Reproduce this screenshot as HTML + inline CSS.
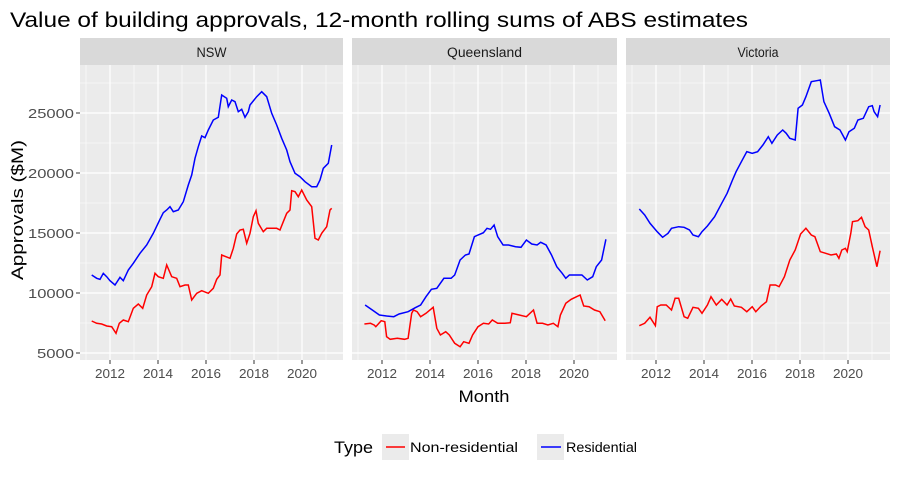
<!DOCTYPE html>
<html><head><meta charset="utf-8"><style>
body{margin:0;background:#fff;}
svg{display:block;font-family:"Liberation Sans",Arial,sans-serif;}
</style></head><body>
<svg id="s" width="899" height="479" viewBox="0 0 899 479" xmlns="http://www.w3.org/2000/svg">
<rect width="899" height="479" fill="#fff"/>
<text x="10" y="27" font-size="21" fill="#000" textLength="738" lengthAdjust="spacingAndGlyphs">Value of building approvals, 12-month rolling sums of ABS estimates</text>
<g id="panels"></g>
<text x="484" y="402" font-size="17" text-anchor="middle" textLength="51" lengthAdjust="spacingAndGlyphs">Month</text>
<text transform="translate(23,210) rotate(-90)" font-size="17" text-anchor="middle" textLength="140" lengthAdjust="spacingAndGlyphs">Approvals ($M)</text>
<text x="334" y="453" font-size="17" textLength="39" lengthAdjust="spacingAndGlyphs">Type</text>
<rect x="382" y="434" width="27" height="26" fill="#ebebeb"/>
<rect x="537" y="434" width="27" height="26" fill="#ebebeb"/>
<line x1="386" y1="447" x2="405" y2="447" stroke="#ff0000" stroke-width="1.5"/>
<text x="410" y="452" font-size="13.5" textLength="108" lengthAdjust="spacingAndGlyphs">Non-residential</text>
<line x1="541" y1="447" x2="561" y2="447" stroke="#0000ff" stroke-width="1.5"/>
<text x="566" y="452" font-size="13.5" textLength="71" lengthAdjust="spacingAndGlyphs">Residential</text>
<g fill="#4d4d4d" font-size="13" text-anchor="end">
<text x="74" y="118" textLength="46" lengthAdjust="spacingAndGlyphs">25000</text><text x="74" y="178" textLength="46" lengthAdjust="spacingAndGlyphs">20000</text><text x="74" y="238" textLength="46" lengthAdjust="spacingAndGlyphs">15000</text><text x="74" y="298" textLength="46" lengthAdjust="spacingAndGlyphs">10000</text><text x="74" y="358" textLength="37" lengthAdjust="spacingAndGlyphs">5000</text>
</g>
<g stroke="#333" stroke-width="1">
<line x1="76" x2="80" y1="113" y2="113"/><line x1="76" x2="80" y1="173" y2="173"/><line x1="76" x2="80" y1="233" y2="233"/><line x1="76" x2="80" y1="293" y2="293"/><line x1="76" x2="80" y1="353" y2="353"/>
</g>
<g id="lines" fill="none" stroke-width="1.5"></g>
</svg>
<script>
var P=[["NSW",80,343,0,30],["Queensland",352,617,272,75],["Victoria",626,890,546,41]];
var g=document.getElementById('panels'),h='';
P.forEach(function(p){
 var x0=p[1],x1=p[2],o=p[3];
 h+='<rect x="'+x0+'" y="38" width="'+(x1-x0)+'" height="27" fill="#d9d9d9"/>';
 h+='<text x="'+((x0+x1)/2)+'" y="57" font-size="13.5" fill="#1a1a1a" text-anchor="middle" textLength="'+p[4]+'" lengthAdjust="spacingAndGlyphs">'+p[0]+'</text>';
 h+='<rect x="'+x0+'" y="65" width="'+(x1-x0)+'" height="295" fill="#ebebeb"/>';
 for(var v=7500;v<=27500;v+=5000){var y=353-(v-5000)*0.012;h+='<line x1="'+x0+'" x2="'+x1+'" y1="'+y+'" y2="'+y+'" stroke="#fff" stroke-width="0.6"/>';}
 for(var yr=2011;yr<=2021;yr+=2){var x=110+o+(yr-2012)*24;h+='<line x1="'+x+'" x2="'+x+'" y1="65" y2="360" stroke="#fff" stroke-width="0.6"/>';}
 for(var v=5000;v<=25000;v+=5000){var y=353-(v-5000)*0.012;h+='<line x1="'+x0+'" x2="'+x1+'" y1="'+y+'" y2="'+y+'" stroke="#fff" stroke-width="1.2"/>';}
 for(var yr=2012;yr<=2020;yr+=2){var x=110+o+(yr-2012)*24;h+='<line x1="'+x+'" x2="'+x+'" y1="65" y2="360" stroke="#fff" stroke-width="1.2"/>';
  h+='<line x1="'+x+'" x2="'+x+'" y1="360" y2="364" stroke="#333"/>';
  h+='<text x="'+x+'" y="378" font-size="13" fill="#4d4d4d" text-anchor="middle" textLength="30" lengthAdjust="spacingAndGlyphs">'+yr+'</text>';}
});
g.innerHTML=h;
function pl(a,fx,col){var s='';for(var i=0;i<a.length;i+=2){s+=fx(a[i]).toFixed(1)+','+(30+a[i+1]/3).toFixed(1)+' ';}return '<polyline points="'+s+'" stroke="'+col+'"/>';}
var f1=function(x){return x/3;},f2=function(x){return 340+x/2.79;};
var nb=[275,735,290,745,300,748,310,730,320,740,330,752,345,765,360,742,370,752,385,720,400,700,420,670,440,645,460,610,480,568,490,548,500,540,510,530,520,545,535,540,550,515,565,465,575,435,585,385,595,350,605,318,615,323,625,300,640,270,655,262,665,195,680,205,685,230,695,210,705,215,715,245,725,238,735,262,745,245,750,225,770,200,785,185,800,200,815,250,830,285,845,325,860,360,870,395,885,430,900,440,915,455,935,470,950,470,960,450,970,415,985,400,995,345];
var nr=[275,873,290,880,305,882,320,888,335,890,348,910,358,880,370,870,385,875,400,835,415,822,428,835,440,795,455,770,465,730,475,740,490,745,500,705,515,740,530,745,540,770,555,765,565,765,575,810,590,790,605,782,625,790,640,775,650,748,660,735,665,675,690,685,700,655,710,612,720,600,730,598,740,640,750,610,760,560,768,542,775,580,790,605,800,595,830,595,840,600,850,575,860,550,870,540,875,482,885,485,895,500,905,480,920,510,935,530,945,625,955,630,965,610,980,590,990,540,995,535];
var qb=[70,825,90,840,110,855,130,858,150,860,165,852,190,845,210,833,225,825,240,800,255,778,270,775,290,745,310,745,320,735,335,690,350,675,360,672,375,620,385,615,400,608,410,595,420,598,430,585,440,620,455,645,470,645,490,650,505,652,520,630,535,642,550,645,560,637,575,645,590,675,605,710,620,730,630,745,640,735,660,735,675,735,690,750,705,740,715,710,730,690,742,628];
var qr=[68,882,85,880,95,885,100,890,115,872,125,875,130,920,140,928,160,925,180,928,190,925,200,850,205,840,215,845,225,860,240,850,260,832,270,895,280,915,295,905,305,915,320,940,335,950,345,935,360,940,370,915,385,890,400,880,415,882,425,870,440,880,460,880,475,878,480,850,500,855,520,860,540,840,550,880,565,880,580,885,595,880,608,890,615,855,630,820,645,808,660,800,670,795,680,828,695,830,710,840,725,845,740,872];
var vb=[835,537,850,555,865,580,885,605,900,622,915,610,925,595,945,590,960,592,975,600,985,615,1000,620,1010,605,1025,588,1045,560,1065,520,1080,490,1095,450,1105,425,1120,395,1135,365,1150,370,1165,365,1180,345,1195,320,1205,340,1220,315,1235,300,1245,310,1255,325,1270,330,1278,235,1290,225,1300,200,1315,155,1330,152,1340,150,1350,215,1365,250,1380,290,1395,300,1410,330,1420,305,1435,295,1445,270,1460,265,1475,230,1485,227,1490,245,1500,260,1507,225];
var vr=[835,887,850,880,865,862,880,887,885,830,895,825,910,825,925,840,935,805,945,805,960,860,970,865,985,832,1000,835,1010,850,1025,825,1035,800,1050,825,1065,808,1080,825,1090,807,1100,828,1120,832,1135,845,1150,830,1160,845,1175,828,1190,815,1200,765,1215,765,1225,770,1240,740,1255,690,1270,660,1285,612,1300,595,1315,615,1325,620,1340,665,1355,670,1370,675,1385,672,1392,685,1400,660,1410,655,1415,665,1425,610,1430,575,1445,572,1455,562,1465,590,1475,600,1485,650,1498,710,1507,662];
document.getElementById('lines').innerHTML=pl(nr,f1,'#ff0000')+pl(nb,f1,'#0000ff')+pl(qr,f2,'#ff0000')+pl(qb,f2,'#0000ff')+pl(vr,f2,'#ff0000')+pl(vb,f2,'#0000ff');
</script>
</body></html>
